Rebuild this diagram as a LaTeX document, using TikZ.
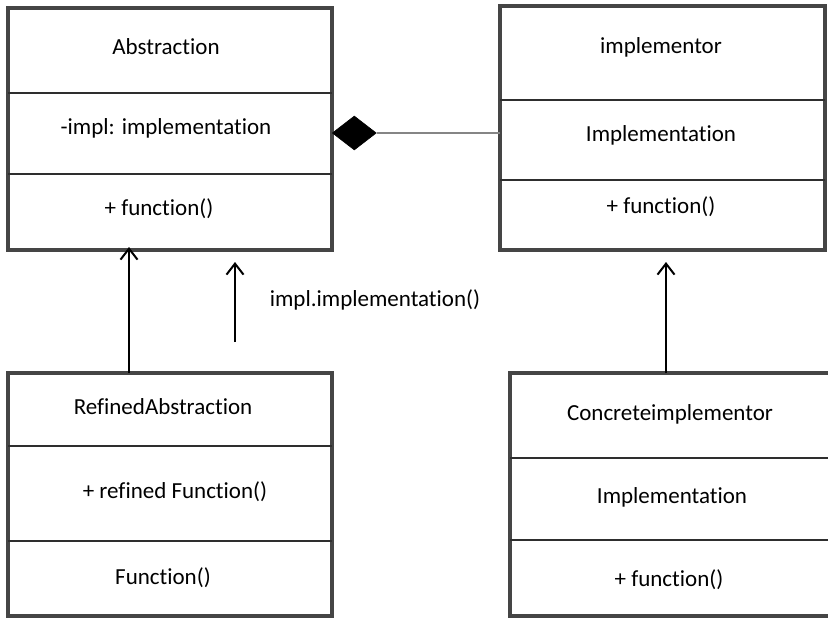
\documentclass[tikz,border=0pt]{standalone}
\usepackage{fontspec}
\setmainfont{Carlito}[Ligatures={NoCommon,NoContextual}]
\usetikzlibrary{arrows.meta,shapes.geometric}
\definecolor{boxgray}{HTML}{454545}
\definecolor{rulegray}{HTML}{2E2E2E}
\definecolor{assocgray}{HTML}{858585}
\begin{document}
\begin{tikzpicture}[x=1pt,y=-1pt,
  classbox/.style={draw=boxgray, line width=3.6pt, fill=white, inner sep=0pt, outer sep=0pt, anchor=north west},
  divider/.style={draw=rulegray, line width=1.4pt},
  lbl/.style={inner sep=0pt, font=\fontsize{23}{27}\selectfont, text=black},
  inh/.style={draw=black, line width=2pt, -{Straight Barb[length=11pt,width=17pt,line width=2pt]}},
  assoc/.style={draw=assocgray, line width=1.6pt}]
\clip (0,0) rectangle (828,618);
\fill[white] (0,0) rectangle (828,618);

% class boxes
\node[classbox, minimum width=324pt, minimum height=242pt] (abs) at (8,8) {};
\node[classbox, minimum width=325pt, minimum height=244pt] (impl) at (500,6) {};
\node[classbox, minimum width=324pt, minimum height=243pt] (ra) at (8,373) {};
\node[classbox, minimum width=340pt, minimum height=243pt] (ci) at (510,373) {};

% compartment rules
\draw[divider] (abs.west |- 0,93) -- (abs.east |- 0,93);
\draw[divider] (abs.west |- 0,174) -- (abs.east |- 0,174);
\draw[divider] (impl.west |- 0,100) -- (impl.east |- 0,100);
\draw[divider] (impl.west |- 0,180) -- (impl.east |- 0,180);
\draw[divider] (ra.west |- 0,446) -- (ra.east |- 0,446);
\draw[divider] (ra.west |- 0,541) -- (ra.east |- 0,541);
\draw[divider] (ci.west |- 0,458) -- (ci.east |- 0,458);
\draw[divider] (ci.west |- 0,540) -- (ci.east |- 0,540);

% compartment texts
\node[lbl] (absname) at (166,47) {Abstraction};
\node[lbl] (absattr) at (166,128) {-impl: implementation};
\node[lbl] (absop) at (159,209) {+ function()};
\node[lbl] (implname) at (661,47) {implementor};
\node[lbl] (implattr) at (661,135) {Implementation};
\node[lbl] (implop) at (661,207) {+ function()};
\node[lbl] (raname) at (163,407) {RefinedAbstraction};
\node[lbl] (raattr) at (175,492) {+ refined Function()};
\node[lbl] (raop) at (163,578) {Function()};
\node[lbl] (ciname) at (670,414) {Concreteimplementor};
\node[lbl] (ciattr) at (672,497) {Implementation};
\node[lbl] (ciop) at (669,580) {+ function()};

% aggregation with filled diamond
\node[diamond, fill=black, draw=black, line width=0.6pt, minimum width=44pt, minimum height=34pt, inner sep=0pt, anchor=west] (dia) at (abs.east |- 0,133) {};
\draw[assoc] (dia.east) -- (impl.west |- dia.east);

% generalisations
\coordinate (raup) at (129,373);
\coordinate (absin) at (129,247);
\draw[inh] (raup) -- (absin);
\coordinate (ciup) at (666,373);
\coordinate (implin) at (666,262);
\draw[inh] (ciup) -- (implin);

% delegation call
\coordinate (calltail) at (235,342);
\coordinate (callhead) at (235,262);
\draw[inh] (calltail) -- (callhead);
\node[lbl] (call) at (375,300) {impl.implementation()};
\end{tikzpicture}
\end{document}
